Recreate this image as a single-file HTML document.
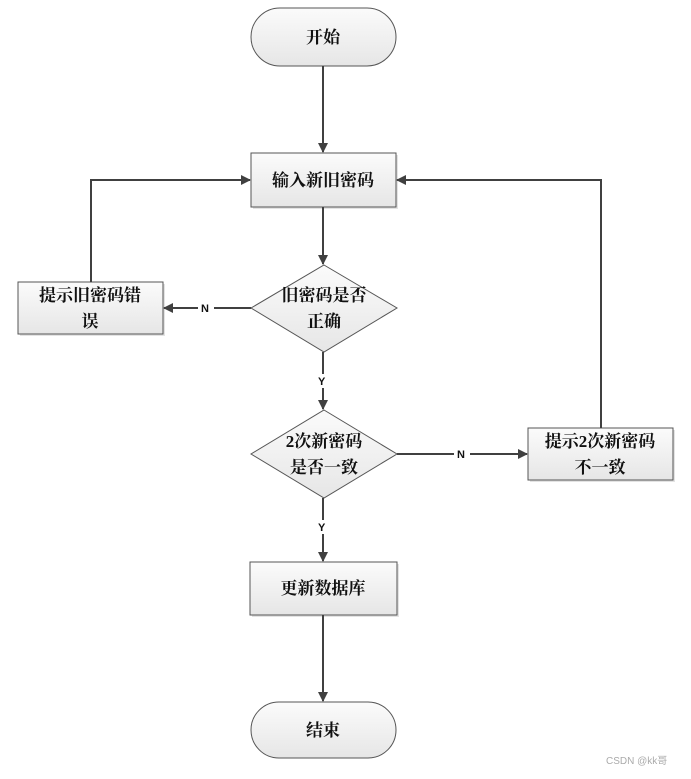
<!DOCTYPE html>
<html><head><meta charset="utf-8"><style>
body{margin:0;background:#fff}
text{font-family:"Liberation Serif","Noto Serif CJK SC",serif;font-size:17px;font-weight:bold;fill:#111}
.l{font-family:"Liberation Sans",sans-serif;font-size:11px;font-weight:bold}
</style></head><body>
<svg width="691" height="774" viewBox="0 0 691 774" xmlns="http://www.w3.org/2000/svg">
<defs>
<linearGradient id="g" x1="0" y1="0" x2="0" y2="1"><stop offset="0" stop-color="#fbfbfb"/><stop offset="1" stop-color="#e6e6e6"/></linearGradient>
<marker id="a" markerWidth="10" markerHeight="10" refX="9" refY="5" orient="auto" markerUnits="userSpaceOnUse"><path d="M0,0 L10,5 L0,10 z" fill="#404040"/></marker>
</defs>
<g fill="#d0d0d0" opacity="0.6">
<rect x="20" y="284" width="145" height="52"/><rect x="253" y="155" width="145" height="54"/><rect x="530" y="430" width="145" height="52"/><rect x="252" y="564" width="147" height="53"/>
</g>
<g stroke="#555" stroke-width="1" fill="url(#g)">
<rect x="251" y="8" width="145" height="58" rx="29"/>
<rect x="251" y="153" width="145" height="54"/>
<polygon points="324,265 397,308 324,352 251,308"/>
<rect x="18" y="282" width="145" height="52"/>
<polygon points="324,410 397,454 324,498 251,454"/>
<rect x="528" y="428" width="145" height="52"/>
<rect x="250" y="562" width="147" height="53"/>
<rect x="251" y="702" width="145" height="56" rx="28"/>
</g>
<g stroke="#404040" stroke-width="2" fill="none" marker-end="url(#a)">
<line x1="323" y1="66" x2="323" y2="152"/>
<line x1="323" y1="207" x2="323" y2="264"/>
<line x1="251" y1="308" x2="164" y2="308"/>
<polyline points="91,282 91,180 250,180"/>
<line x1="323" y1="352" x2="323" y2="409"/>
<line x1="397" y1="454" x2="527" y2="454"/>
<polyline points="601,428 601,180 397,180"/>
<line x1="323" y1="498" x2="323" y2="561"/>
<line x1="323" y1="615" x2="323" y2="701"/>
</g>
<rect x="198" y="301" width="16" height="14" fill="#fff"/><text class="l" x="201" y="312">N</text>
<rect x="316" y="374" width="14" height="14" fill="#fff"/><text class="l" x="318" y="385">Y</text>
<rect x="454" y="447" width="16" height="14" fill="#fff"/><text class="l" x="457" y="458">N</text>
<rect x="316" y="520" width="14" height="14" fill="#fff"/><text class="l" x="318" y="531">Y</text>
<g text-anchor="middle">
<text x="323" y="43">开始</text>
<text x="323" y="186">输入新旧密码</text>
<text x="324" y="301">旧密码是否</text>
<text x="324" y="327">正确</text>
<text x="90" y="301">提示旧密码错</text>
<text x="90" y="327">误</text>
<text x="324" y="447">2次新密码</text>
<text x="324" y="473">是否一致</text>
<text x="600" y="447">提示2次新密码</text>
<text x="600" y="473">不一致</text>
<text x="323" y="594">更新数据库</text>
<text x="323" y="736">结束</text>
</g>
<text x="606" y="764" style="font-family:'Liberation Sans','Noto Sans CJK SC',sans-serif;font-size:10px;font-weight:normal;fill:#aaa">CSDN @kk哥</text>
</svg>
</body></html>
